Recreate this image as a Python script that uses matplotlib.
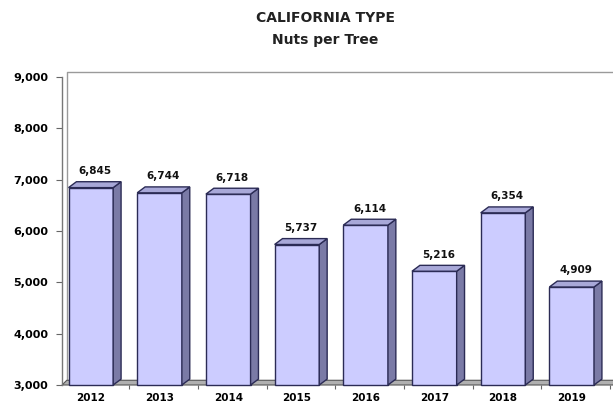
import matplotlib
matplotlib.use("Agg")
import matplotlib.pyplot as plt
from matplotlib.patches import Polygon, Rectangle
from matplotlib.ticker import FuncFormatter

years = ["2012", "2013", "2014", "2015", "2016", "2017", "2018", "2019"]
nuts = [6845, 6744, 6718, 5737, 6114, 5216, 6354, 4909]

plt.rcParams['font.family'] = ['DejaVu Sans']

fig = plt.figure(figsize=(6.13, 4.04), dpi=100)
ax = fig.add_axes([62/613, 1-385/404, (610-62)/613, (385-77)/404])
ymin, ymax = 3000, 9000
ax.set_ylim(ymin, ymax)
ax.set_xlim(-0.42, 7.52)

w = 0.65
dx = 0.115
dy = 115

front = '#ccccff'
side = '#7a7aa6'
top = '#a8a8d8'
edge = '#2b2b55'

# back wall
ax.plot([-0.42+0.07, -0.42+0.07, 7.6], [ymin+dy*0.8, ymax+dy*0.8, ymax+dy*0.8],
        color='#9a9a9a', lw=1.0, clip_on=False, zorder=1)
# floor
ax.add_patch(Polygon([[-0.42, ymin], [7.6, ymin], [7.6+0.07, ymin+dy*0.8], [-0.42+0.07, ymin+dy*0.8]],
                     closed=True, facecolor='#b0b0b0', edgecolor='#555555', lw=0.8,
                     clip_on=False, zorder=1))

for i, v in enumerate(nuts):
    x0 = i - w/2
    x1 = i + w/2
    ax.add_patch(Rectangle((x0, ymin), w, v-ymin, facecolor=front, edgecolor=edge,
                           lw=1.0, zorder=3, clip_on=False))
    ax.add_patch(Polygon([[x1, ymin], [x1+dx, ymin+dy], [x1+dx, v+dy], [x1, v]],
                         closed=True, facecolor=side, edgecolor=edge, lw=1.0, zorder=3, clip_on=False))
    ax.add_patch(Polygon([[x0, v], [x0+dx, v+dy], [x1+dx, v+dy], [x1, v]],
                         closed=True, facecolor=top, edgecolor=edge, lw=1.0, zorder=3, clip_on=False))
    ax.text(i + dx/2, v + dy + 110, f"{v:,}", ha='center', va='bottom', fontsize=7.5,
            fontweight='bold', color='#111111', zorder=4)

ax.set_xticks(range(len(years)))
ax.set_xticklabels(years, fontsize=7.5, fontweight='bold')
ax.set_xticks([i + 0.5 + dx/2 for i in range(len(years))], minor=True)
ax.set_yticks(range(3000, 9001, 1000))
ax.yaxis.set_major_formatter(FuncFormatter(lambda v, p: f"{int(v):,}"))
for lab in ax.get_yticklabels():
    lab.set_fontweight('bold')
    lab.set_fontsize(8)
ax.tick_params(axis='y', length=4, width=0.8, color='#666666', pad=6)
ax.tick_params(axis='x', which='major', length=0, pad=6)
ax.tick_params(axis='x', which='minor', length=3, width=0.8, color='#666666')

for s in ['top', 'right', 'bottom']:
    ax.spines[s].set_visible(False)
ax.spines['left'].set_color('#777777')
ax.spines['left'].set_linewidth(1.0)
ax.patch.set_alpha(0)

fig.text(325/613, 1-18/404, "CALIFORNIA TYPE", ha='center', va='center',
         fontsize=10, fontweight='bold', color='#222222')
fig.text(325/613, 1-40/404, "Nuts per Tree", ha='center', va='center',
         fontsize=10, fontweight='bold', color='#222222')

fig.savefig("out.png", dpi=100)
